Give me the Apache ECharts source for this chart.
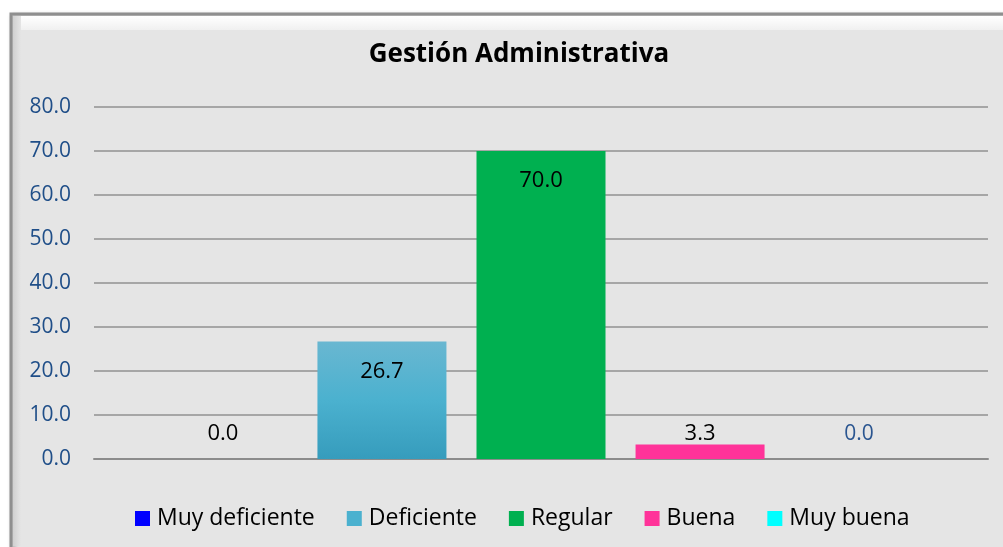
<!DOCTYPE html>
<html>
<head>
<meta charset="utf-8">
<script src="https://cdn.jsdelivr.net/npm/echarts@6/dist/echarts.min.js"></script>
<style>html,body{margin:0;padding:0;background:#fff;}#c{width:1003px;height:547px;}</style>
</head>
<body>
<div id="c"></div>
<script>
const title = 'Gestión Administrativa';
const categories = ['Gestión Administrativa'];
const seriesNames = ['Muy deficiente', 'Deficiente', 'Regular', 'Buena', 'Muy buena'];
const seriesValues = [[0.0], [26.7], [70.0], [3.3], [0.0]];
const yTicks = { min: 0, max: 80, interval: 10 };

const colors = [
  '#0000ff',
  new echarts.graphic.LinearGradient(0, 0, 0, 1, [
    { offset: 0, color: '#69b7d1' }, { offset: 0.5, color: '#4bb1cf' }, { offset: 1, color: '#369cbc' }
  ]),
  '#00b050',
  '#ff3399',
  '#00ffff'
];
const legendColors = ['#0000ff', '#4bb1cf', '#00b050', '#ff3399', '#00ffff'];
const labelStyles = [
  { position: 'top', distance: 14, color: '#000', fontSize: 22 },
  { position: 'insideTop', distance: 19, color: '#000', fontSize: 22 },
  { position: 'insideTop', distance: 19, color: '#000', fontSize: 22 },
  { position: 'top', distance: 0, color: '#000', fontSize: 22 },
  { position: 'top', distance: 14, color: '#2a5590', fontSize: 21 }
];

const chart = echarts.init(document.getElementById('c'));
const font = 'Open Sans';
chart.setOption({
  animation: false,
  textStyle: { fontFamily: font },
  graphic: [
    { type: 'rect', z: -10, shape: { x: 11, y: 14, width: 1010, height: 545 },
      style: { fill: '#e5e5e5', stroke: '#8f8f8f', lineWidth: 3, shadowBlur: 4, shadowColor: 'rgba(0,0,0,0.3)', shadowOffsetX: 2, shadowOffsetY: 2 } },
    { type: 'rect', z: -9, shape: { x: 13, y: 16, width: 1000, height: 14 },
      style: { fill: new echarts.graphic.LinearGradient(0, 0, 0, 1, [{ offset: 0, color: '#ffffff' }, { offset: 1, color: '#f0f0f0' }]) } },
    { type: 'rect', z: -9, shape: { x: 13, y: 16, width: 8, height: 530 },
      style: { fill: new echarts.graphic.LinearGradient(0, 0, 1, 0, [{ offset: 0, color: '#d0d0d0' }, { offset: 1, color: '#e5e5e5' }]) } }
  ],
  title: {
    text: title, left: 514, textAlign: 'center', top: 37,
    textStyle: { fontFamily: font, fontWeight: 'bold', fontSize: 26, color: '#000' }
  },
  legend: {
    data: seriesNames.map((n, i) => ({ name: n, itemStyle: { color: legendColors[i] } })),
    left: 130, top: 502, itemWidth: 15, itemHeight: 15, itemGap: 32, icon: 'rect',
    textStyle: { fontFamily: font, fontSize: 23, color: '#000', padding: [0, 0, 0, 2] }
  },
  grid: { left: 94, right: 15, top: 107, bottom: 88, containLabel: false },
  xAxis: {
    type: 'category', data: categories,
    axisLine: { show: true, lineStyle: { color: '#8c8c8c', width: 2 } },
    axisTick: { show: false }, axisLabel: { show: false }, splitLine: { show: false }
  },
  yAxis: {
    type: 'value', min: yTicks.min, max: yTicks.max, interval: yTicks.interval,
    axisLine: { show: false }, axisTick: { show: false },
    axisLabel: { formatter: v => v.toFixed(1), color: '#1f4e88', fontSize: 21, margin: 23, fontFamily: font },
    splitLine: { lineStyle: { color: '#a6a6a6', width: 2 } }
  },
  series: seriesNames.map((n, i) => ({
    name: n, type: 'bar', barWidth: 129, barGap: '23.3%',
    itemStyle: { color: colors[i] },
    label: Object.assign({ show: true, formatter: p => p.value.toFixed(1), fontFamily: font }, labelStyles[i]),
    data: seriesValues[i]
  }))
});
</script>
</body>
</html>
